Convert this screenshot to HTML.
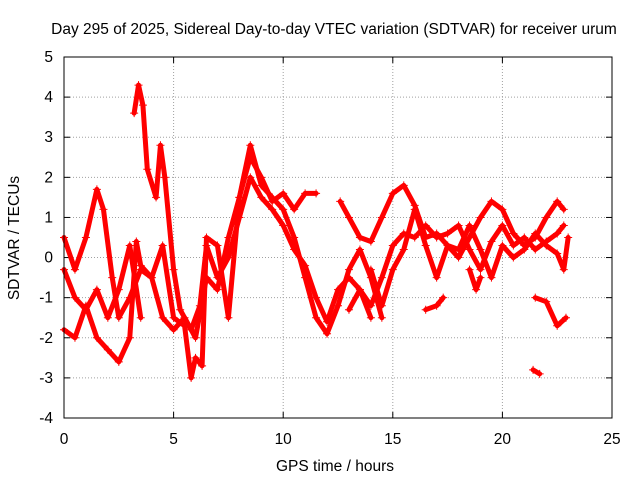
<!DOCTYPE html>
<html><head><meta charset="utf-8"><style>
body{margin:0;background:#fff;}
svg{display:block;font-family:"Liberation Sans",sans-serif;font-size:15.5px;}
</style></head><body>
<svg id="c" width="640" height="480">
<text x="334" y="34" text-anchor="middle">Day 295 of 2025, Sidereal Day-to-day VTEC variation (SDTVAR) for receiver urum</text>
<text x="335" y="471" text-anchor="middle">GPS time / hours</text>
<text transform="translate(19,238) rotate(-90)" text-anchor="middle">SDTVAR / TECUs</text>
<g id="grid"></g><g id="series"></g>
<rect x="64" y="57" width="548" height="361" fill="none" stroke="#000"/>
</svg>
<script>
const xTicks=[0,5,10,15,20,25];
const yTicks=[-4,-3,-2,-1,0,1,2,3,4,5];
const track1=[[0,0.5],[0.5,-0.3],[1,0.5],[1.5,1.7],[1.8,1.2],[2.2,-0.5],[2.5,-1.5],[3,-1.0],[3.5,-0.3],[4,-0.5],[4.5,-1.5],[5,-1.8],[5.5,-1.5],[6,-2.0],[6.5,-0.5],[7,-0.8],[7.5,0.5],[8,1.5],[8.5,2.8],[9,1.8],[9.5,1.5],[10,1.2],[10.5,0.5],[11,-0.5],[11.5,-1.5],[12,-1.9],[12.5,-1.2],[13,-0.3],[13.5,0.2],[14,-0.5],[14.5,-1.5]];
const track2=[[0,-1.8],[0.5,-2.0],[1,-1.2],[1.5,-2.0],[2,-2.3],[2.5,-2.6],[3,-2.0],[3.3,0.4],[3.5,-0.2],[4,-0.5],[4.5,0.3],[5,-1.5],[5.5,-1.7],[5.8,-3.0],[6,-2.5],[6.3,-2.7],[6.5,0.5],[7,0.3],[7.5,-1.5],[8,1.5],[8.5,2.5],[9,2.0],[9.5,1.4],[10,1.6],[10.5,1.2],[11,1.6],[11.5,1.6]];
const track3=[[3.2,3.6],[3.4,4.3],[3.6,3.8],[3.8,2.2],[4.2,1.5],[4.4,2.8],[4.6,2.0],[5,-0.3],[5.3,-1.3],[5.8,-1.8],[6.2,-1.2],[6.5,0.3],[7,-0.5],[7.5,0],[8,1.0],[8.5,2.0],[9,1.5],[9.5,1.2],[10,0.8],[10.5,0.2],[11,-0.2],[11.5,-1.0],[12,-1.6],[12.5,-0.8],[13,-0.5],[13.5,-0.8],[14,-1.5]];
const track4=[[0,-0.3],[0.5,-1.0],[1,-1.3],[1.5,-0.8],[2,-1.5],[2.5,-0.8],[3,0.3],[3.5,-1.5]];
const track5=[[12.6,1.4],[13,1.0],[13.5,0.5],[14,0.4],[14.5,1.0],[15,1.6],[15.5,1.8],[16,1.3],[16.5,0.5],[17,0.6],[17.5,0.3],[18,0.0],[18.5,0.5],[19,1.0],[19.5,1.4],[20,1.2],[20.5,0.6],[21,0.3],[21.5,0.5],[22,1.0],[22.5,1.4],[22.8,1.2]];
const track6=[[13,-1.3],[13.5,-0.8],[14,-1.2],[14.5,-0.5],[15,0.3],[15.5,0.6],[16,0.5],[16.5,0.8],[17,0.5],[17.5,0.6],[18,0.8],[18.5,0.2],[19,-0.3],[19.5,0.4],[20,0.8],[20.5,0.3],[21,0.5],[21.5,0.2],[22,0.4],[22.5,0.6],[22.8,0.8]];
const track7=[[14,-0.3],[14.5,-1.2],[15,-0.3],[15.5,0.2],[16,1.2],[16.5,0.3],[17,-0.5],[17.5,0.3],[18,0.2],[18.5,0.8],[19,0.2],[19.5,-0.5],[20,0.3],[20.5,0.0],[21,0.2],[21.5,0.6],[22,0.3],[22.5,0.1],[22.8,-0.3],[23,0.5]];
const track8=[[16.5,-1.3],[17,-1.2],[17.3,-1.0]];
const track9=[[21.5,-1.0],[22,-1.1],[22.5,-1.7],[22.9,-1.5]];
const track10=[[21.4,-2.8],[21.7,-2.9]];
const track11=[[18.5,-0.3],[18.8,-0.8],[19,-0.5]];
const tracks=[track1,track2,track3,track4,track5,track6,track7,track8,track9,track10,track11];
const X=h=>64+h*548/25, Y=v=>57+(5-v)*361/9;
const NS="http://www.w3.org/2000/svg";
const g=document.getElementById('grid'), s=document.getElementById('series');
function mk(tag,at,p){const e=document.createElementNS(NS,tag);for(const k in at)e.setAttribute(k,at[k]);p.appendChild(e);return e;}
xTicks.forEach(t=>{
 if(t>0&&t<25){const l=mk('line',{x1:X(t),x2:X(t),y1:57,y2:418,stroke:'#a0a0a0','stroke-dasharray':'1,2'},g);
 
 }
 mk('line',{x1:X(t),x2:X(t),y1:418,y2:412,stroke:'#000'},g);
 mk('line',{x1:X(t),x2:X(t),y1:57,y2:63,stroke:'#000'},g);
 const tx=mk('text',{x:X(t),y:444,'text-anchor':'middle'},g);tx.textContent=t;
 
 
});
yTicks.forEach(t=>{
 if(t>-4&&t<5){const l=mk('line',{x1:64,x2:612,y1:Y(t),y2:Y(t),stroke:'#a0a0a0','stroke-dasharray':'1,2'},g);
 
 }
 mk('line',{x1:64,x2:70,y1:Y(t),y2:Y(t),stroke:'#000'},g);
 mk('line',{x1:606,x2:612,y1:Y(t),y2:Y(t),stroke:'#000'},g);
 const tx=mk('text',{x:53,y:Y(t)+5,'text-anchor':'end'},g);tx.textContent=t;
 
 
});
tracks.forEach((tr,i)=>{
 const p=mk('polyline',{points:tr.map(d=>X(d[0])+','+Y(d[1])).join(' '),fill:'none',stroke:'#f00','stroke-width':5,'stroke-linejoin':'round','stroke-linecap':'round'},s);
 
 
 tr.forEach(d=>{
  const m=mk('path',{d:`M${X(d[0])-4},${Y(d[1])}h8M${X(d[0])},${Y(d[1])-4}v8`,stroke:'#f00','stroke-width':1},s);
  
  
 });
});
</script>
</body></html>
